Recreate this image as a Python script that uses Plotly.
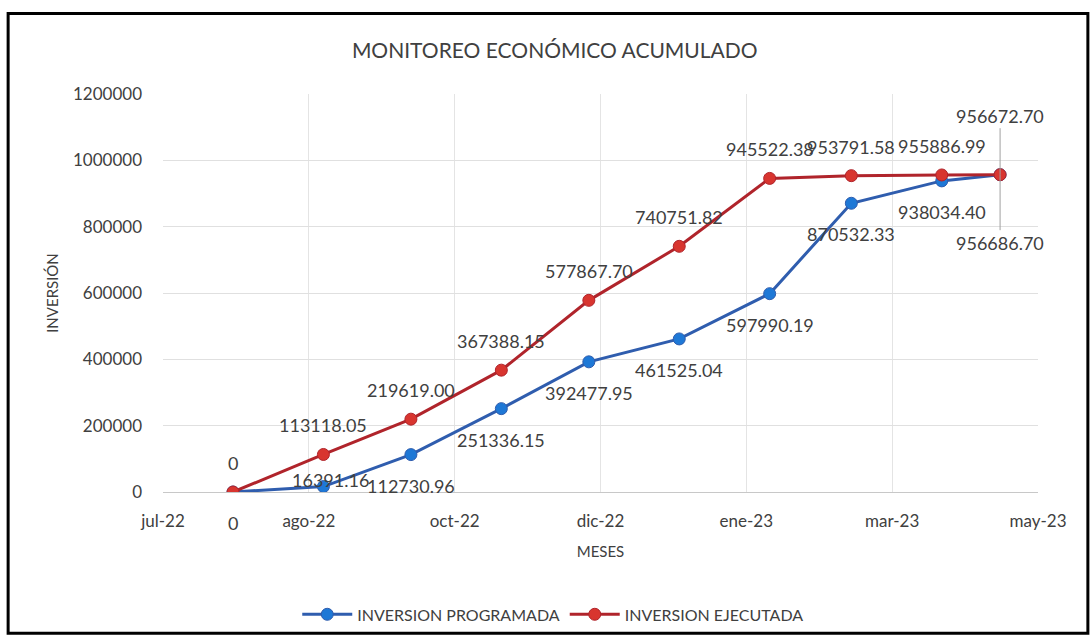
import plotly.graph_objects as go

# Fechas de corte mensual y montos acumulados
meses = ["2022-07-31", "2022-08-31", "2022-09-30", "2022-10-31", "2022-11-30",
         "2022-12-31", "2023-01-31", "2023-02-28", "2023-03-31", "2023-04-20"]
inversion_programada = [0, 16391.16, 112730.96, 251336.15, 392477.95,
                        461525.04, 597990.19, 870532.33, 938034.40, 956686.70]
inversion_ejecutada = [0, 113118.05, 219619.00, 367388.15, 577867.70,
                       740751.82, 945522.38, 953791.58, 955886.99, 956672.70]

# Marcas del eje X (una cada 50 días)
tick_fechas = ["2022-07-07", "2022-08-26", "2022-10-15", "2022-12-04",
               "2023-01-23", "2023-03-14", "2023-05-03"]
tick_textos = ["jul-22", "ago-22", "oct-22", "dic-22", "ene-23", "mar-23", "may-23"]

FONT = "Lato"
TXT = "#404040"
AZUL_LINEA, AZUL_MARCA = "#2F5DAE", "#1E78D6"
ROJO_LINEA, ROJO_MARCA = "#B0242B", "#D8352F"
ETQ = dict(family=FONT, size=18, color=TXT)


def etiqueta(v):
    return "0" if v == 0 else f"{v:.2f}"


fig = go.Figure()
fig.add_trace(go.Scatter(
    x=meses, y=inversion_programada, name="INVERSION PROGRAMADA",
    mode="lines+markers",
    line=dict(color=AZUL_LINEA, width=3),
    marker=dict(size=12, color=AZUL_MARCA, line=dict(color=AZUL_LINEA, width=1)),
))
fig.add_trace(go.Scatter(
    x=meses, y=inversion_ejecutada, name="INVERSION EJECUTADA",
    mode="lines+markers",
    line=dict(color=ROJO_LINEA, width=3),
    marker=dict(size=12, color=ROJO_MARCA, line=dict(color=ROJO_LINEA, width=1)),
))

anotaciones = []
n = len(meses)
for i, (x, yp, ye) in enumerate(zip(meses, inversion_programada, inversion_ejecutada)):
    ultimo = i == n - 1
    # etiqueta de la serie ejecutada (encima)
    if ultimo:
        anotaciones.append(dict(x=x, y=ye, text=etiqueta(ye), showarrow=True,
                                ax=0, ay=-59, arrowhead=0, arrowwidth=1,
                                arrowcolor="#a0a0a0", standoff=0, font=ETQ))
    else:
        anotaciones.append(dict(x=x, y=ye, text=etiqueta(ye), showarrow=False,
                                yshift=29, font=ETQ))
    # etiqueta de la serie programada (debajo)
    if ultimo:
        anotaciones.append(dict(x=x, y=yp, text=etiqueta(yp), showarrow=True,
                                ax=0, ay=68, arrowhead=0, arrowwidth=1,
                                arrowcolor="#a0a0a0", standoff=0, font=ETQ))
    elif i == 1:
        anotaciones.append(dict(x=x, y=yp, text=etiqueta(yp), showarrow=False,
                                xshift=7, yshift=7, font=ETQ))
    else:
        anotaciones.append(dict(x=x, y=yp, text=etiqueta(yp), showarrow=False,
                                yshift=-31, font=ETQ))

fig.update_layout(
    width=1092, height=644,
    margin=dict(l=163, r=54, t=94, b=150),
    paper_bgcolor="white", plot_bgcolor="white",
    font=dict(family=FONT, color=TXT),
    title=dict(text="MONITOREO ECONÓMICO ACUMULADO", x=0.508, y=0.922,
               xanchor="center", yanchor="middle",
               font=dict(family=FONT, size=21, color=TXT)),
    xaxis=dict(
        type="date", range=[tick_fechas[0], tick_fechas[-1]],
        tickmode="array", tickvals=tick_fechas, ticktext=tick_textos,
        showgrid=True, gridcolor="#e4e4e4", gridwidth=1,
        showline=True, linecolor="#c8c8c8", linewidth=1,
        ticks="", ticklabelstandoff=14,
        tickfont=dict(family=FONT, size=17, color=TXT),
        title=dict(text="MESES", standoff=16, font=dict(family=FONT, size=15, color=TXT)),
        zeroline=False,
    ),
    yaxis=dict(
        range=[0, 1200000], dtick=200000, tickformat="d",
        showgrid=True, gridcolor="#e0e0e0", gridwidth=1,
        showline=False, ticks="", ticklabelstandoff=20,
        tickfont=dict(family=FONT, size=17, color=TXT),
        title=dict(text="INVERSIÓN", standoff=10, font=dict(family=FONT, size=15, color=TXT)),
        zeroline=False,
    ),
    legend=dict(orientation="h", x=0.446, y=-0.3075, xanchor="center", yanchor="middle",
                font=dict(family=FONT, size=16, color=TXT), itemwidth=50),
    annotations=anotaciones,
    shapes=[dict(type="rect", xref="paper", yref="paper",
                 x0=-0.177, x1=1.057, y0=-0.355, y1=1.2025,
                 line=dict(color="black", width=3), fillcolor="rgba(0,0,0,0)")],
)

fig.write_html("out.html")
